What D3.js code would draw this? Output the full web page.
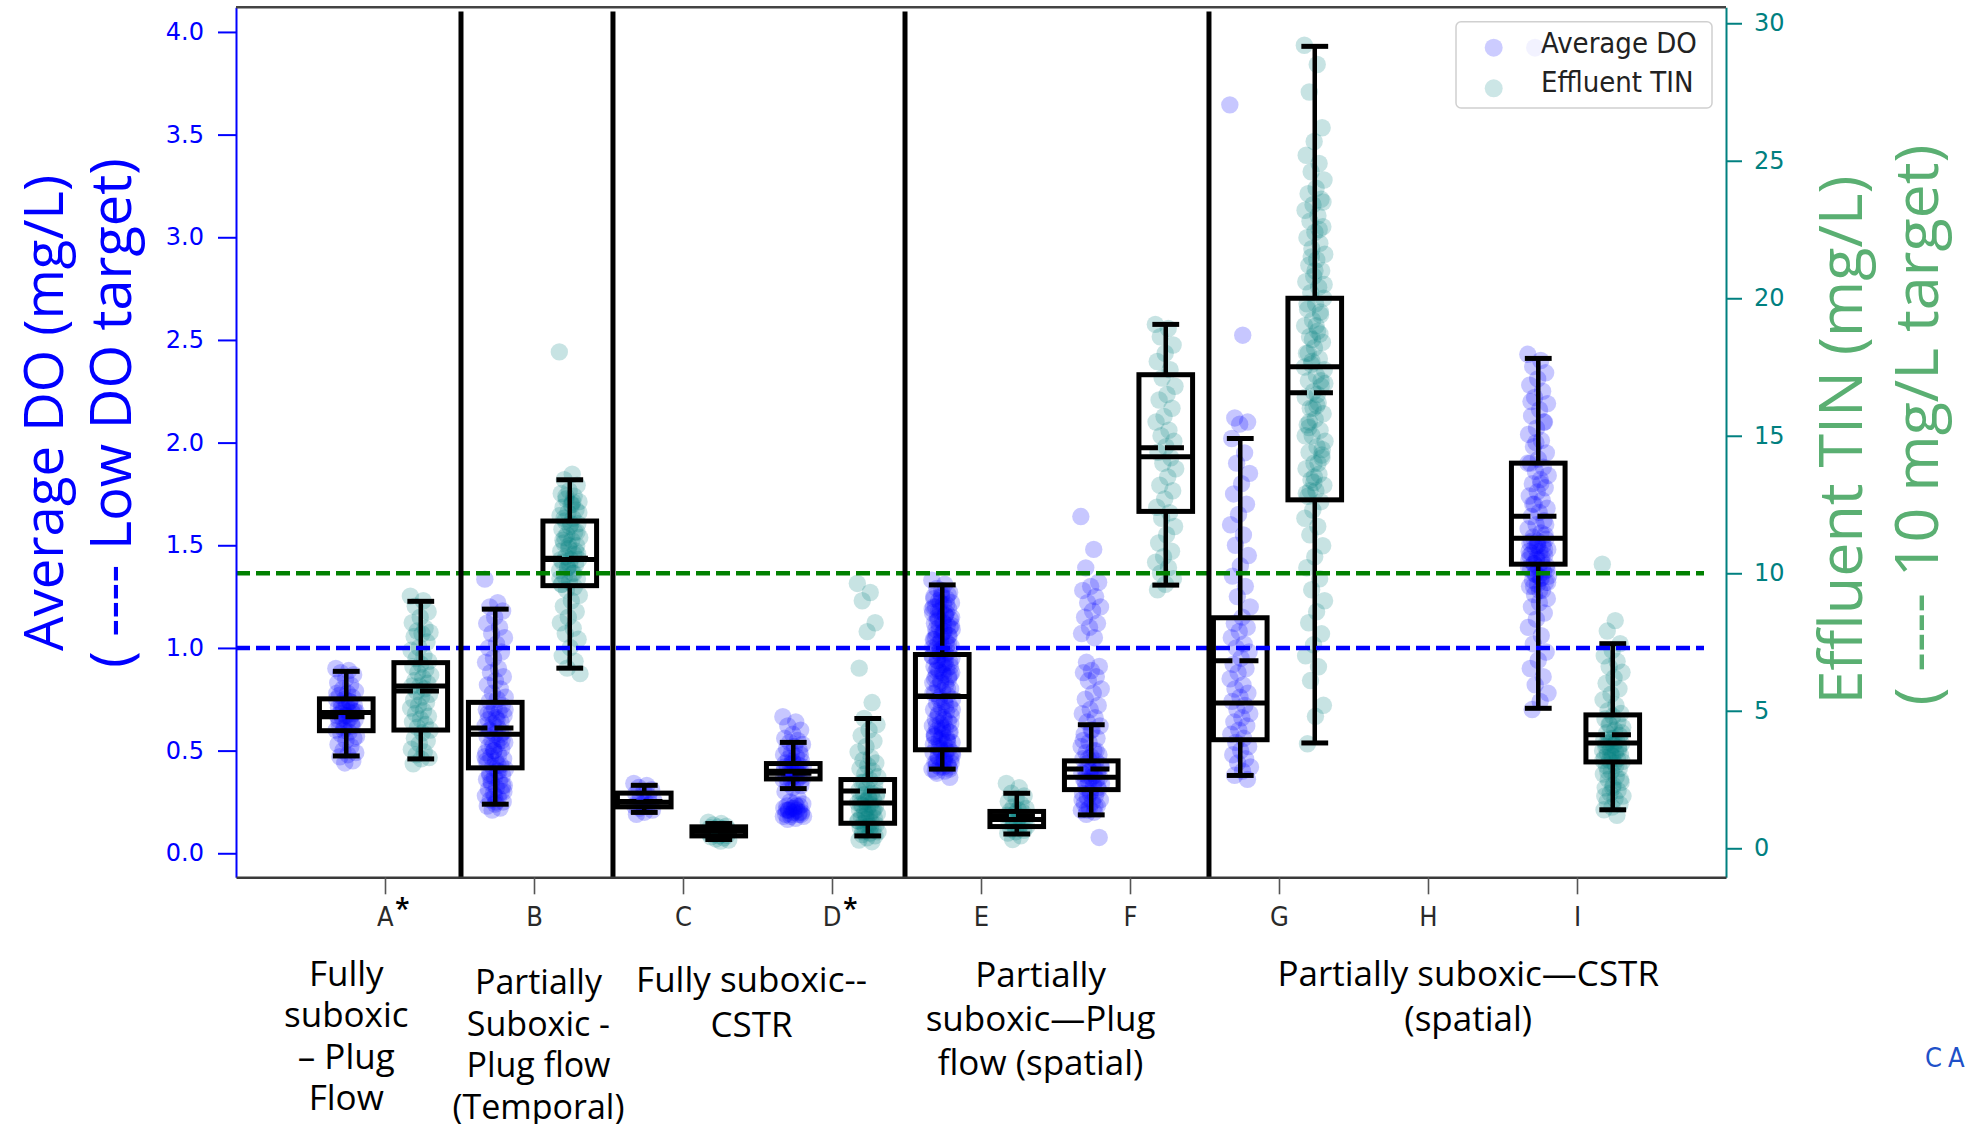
<!DOCTYPE html>
<html>
<head>
<meta charset="utf-8">
<script src="https://cdn.jsdelivr.net/npm/d3@7"></script>
<style>
  body { margin: 0; background: #fff; }
  svg { display: block; }
</style>
</head>
<body>
<div id="chart"></div>
<script>
/***********************************************************
 * DATA
 ************************************************************/
// x axis categories (H has no data), starred ones get an asterisk
var categories = ["A", "B", "C", "D", "E", "F", "G", "H", "I"];
var starred = ["A", "D"];

// categories that carry a DO box and a TIN box
var boxCats = ["A", "B", "C", "D", "E", "F", "G", "I"];

// Average DO box statistics (mg/L), one entry per boxCats item
var doWhiskerLow  = [0.474, 0.239, 0.199, 0.315, 0.410, 0.187, 0.379, 0.706];
var doQ1          = [0.597, 0.416, 0.226, 0.362, 0.504, 0.310, 0.553, 1.408];
var doMedian      = [0.685, 0.580, 0.248, 0.400, 0.764, 0.370, 0.732, 1.534];
var doMean        = [0.665, 0.610, 0.252, 0.390, 0.766, 0.410, 0.938, 1.641];
var doQ3          = [0.752, 0.735, 0.293, 0.437, 0.968, 0.450, 1.147, 1.900];
var doWhiskerHigh = [0.886, 1.189, 0.331, 0.540, 1.307, 0.626, 2.020, 2.410];

// Effluent TIN box statistics (mg/L)
var tinWhiskerLow  = [3.25, 6.55, 0.32, 0.45, 0.52, 9.57, 3.83, 1.40];
var tinQ1          = [4.30, 9.55, 0.45, 0.91, 0.79, 12.25, 12.67, 3.14];
var tinMedian      = [5.90, 10.50, 0.62, 1.65, 1.05, 14.24, 17.51, 3.83];
var tinMean        = [5.72, 10.55, 0.62, 2.08, 1.18, 14.56, 16.56, 4.13];
var tinQ3          = [6.75, 11.90, 0.78, 2.50, 1.34, 17.22, 20.00, 4.85];
var tinWhiskerHigh = [8.98, 13.40, 0.90, 4.72, 2.00, 19.05, 29.16, 7.44];

var doPoints = [
  // A
  [0.90,0.89,0.88,0.87,0.85,0.83,0.82,0.80,0.79,0.78,0.77,0.76,0.75,0.75,0.74,0.73,0.72,0.72,0.71,0.70,0.70,0.69,0.69,0.68,0.68,0.67,0.67,0.66,0.66,0.65,0.64,0.63,0.62,0.61,0.60,0.59,0.58,0.56,0.55,0.53,0.52,0.50,0.49,0.48,0.47,0.45,0.44,
   0.78,0.74,0.71,0.69,0.67,0.65,0.63,0.60,0.57],
  // B
  [1.335,1.22,1.20,1.18,1.15,1.12,1.10,1.07,1.05,1.02,1.00,0.98,0.95,0.93,0.90,0.88,0.86,0.84,0.82,0.80,0.78,0.76,0.75,0.74,0.72,0.71,0.70,0.69,0.68,0.67,0.66,0.65,0.64,0.63,0.62,0.61,0.60,0.59,0.58,0.57,0.56,0.55,0.54,0.53,0.52,0.51,0.50,0.49,0.48,0.47,0.46,0.45,0.44,0.43,0.42,0.41,0.40,0.39,0.38,0.37,0.36,0.35,0.34,0.33,0.32,0.31,0.30,0.29,0.28,0.27,0.26,0.25,0.24,0.23,0.22,0.21,
   0.70,0.65,0.60,0.55,0.50,0.45,0.40,0.35,0.30,0.25,0.68,0.58,0.52,0.47,0.43,0.38,0.33,0.28],
  // C
  [0.34,0.33,0.32,0.31,0.30,0.29,0.28,0.27,0.26,0.25,0.25,0.24,0.24,0.23,0.23,0.22,0.21,0.20,0.19],
  // D
  [0.665,0.64,0.62,0.60,0.58,0.56,0.55,0.54,0.53,0.52,0.51,0.50,0.49,0.48,0.47,0.46,0.45,0.44,0.44,0.43,0.43,0.42,0.42,0.41,0.41,0.40,0.40,0.39,0.39,0.38,0.38,0.37,0.37,0.36,0.36,0.35,0.34,0.33,0.32,0.30,0.27,0.25,0.24,0.24,0.23,0.23,0.22,0.22,0.21,0.21,0.20,0.20,0.19,0.19,0.18,0.18,0.17,0.165,
   0.48,0.45,0.42,0.40,0.38,0.36,0.22,0.21,0.20,0.19,0.18,0.23,0.21,0.19],
  // E
  [1.33,1.31,1.29,1.27,1.26,1.25,1.24,1.23,1.22,1.21,1.20,1.19,1.18,1.17,1.16,1.15,1.14,1.13,1.12,1.11,1.10,1.09,1.08,1.07,1.06,1.05,1.04,1.03,1.02,1.01,1.00,0.99,0.98,0.97,0.96,0.95,0.94,0.93,0.92,0.91,0.90,0.89,0.88,0.87,0.86,0.85,0.84,0.83,0.82,0.81,0.80,0.79,0.78,0.77,0.76,0.75,0.74,0.73,0.72,0.71,0.70,0.69,0.68,0.67,0.66,0.65,0.64,0.63,0.62,0.61,0.60,0.59,0.58,0.57,0.56,0.55,0.54,0.53,0.52,0.51,0.50,0.49,0.48,0.47,0.46,0.45,0.44,0.43,0.42,0.41,0.40,0.39,0.37,
   1.28,1.24,1.21,1.18,1.15,1.12,1.09,1.06,1.03,1.00,0.97,0.94,0.91,0.88,0.85,0.80,0.75,0.70,0.65,0.62,0.59,0.56,0.53,0.50,0.47,0.44,0.42,0.40,
   1.26,1.22,1.19,1.16,1.13,1.10,1.07,1.04,1.01,0.98,0.95,0.92,0.89,0.86,0.83,0.78,0.72,0.67,0.63,0.60,0.57,0.54,0.51,0.48,0.45,0.43,0.41,
   1.25,1.20,1.17,1.14,1.11,1.08,1.05,1.02,0.99,0.96,0.93,0.90,0.87,0.61,0.58,0.55,0.52,0.49,0.46,0.44,0.42],
  // F
  [1.64,1.48,1.39,1.32,1.30,1.28,1.25,1.22,1.20,1.18,1.15,1.12,1.10,1.07,1.05,0.93,0.91,0.89,0.88,0.86,0.84,0.80,0.78,0.75,0.72,0.70,0.68,0.66,0.64,0.62,0.60,0.58,0.56,0.54,0.52,0.50,0.49,0.48,0.47,0.46,0.45,0.44,0.43,0.42,0.41,0.40,0.40,0.39,0.38,0.38,0.37,0.37,0.36,0.36,0.35,0.34,0.33,0.32,0.31,0.30,0.29,0.28,0.27,0.26,0.25,0.24,0.23,0.22,0.21,0.20,0.19,0.077,
   0.60,0.55,0.50,0.46,0.42,0.39,0.35,0.32,0.29,0.26,0.23,0.21],
  // G
  [3.645,2.523,2.12,2.10,2.09,2.02,1.95,1.90,1.85,1.80,1.75,1.70,1.65,1.60,1.55,1.50,1.45,1.40,1.35,1.30,1.25,1.20,1.15,1.12,1.10,1.08,1.05,1.02,1.00,0.98,0.95,0.92,0.90,0.88,0.85,0.82,0.80,0.78,0.76,0.74,0.72,0.70,0.68,0.66,0.64,0.62,0.60,0.58,0.56,0.54,0.52,0.50,0.48,0.46,0.44,0.42,0.40,0.38,0.36],
  // I
  [2.43,2.40,2.37,2.34,2.31,2.28,2.25,2.22,2.19,2.16,2.13,2.10,2.07,2.04,2.01,1.98,1.95,1.92,1.90,1.88,1.86,1.84,1.82,1.80,1.78,1.76,1.74,1.72,1.70,1.68,1.66,1.64,1.62,1.60,1.58,1.56,1.54,1.53,1.52,1.51,1.50,1.49,1.48,1.47,1.46,1.45,1.44,1.43,1.42,1.41,1.40,1.39,1.38,1.37,1.36,1.35,1.34,1.33,1.32,1.31,1.30,1.28,1.26,1.24,1.22,1.20,1.17,1.14,1.10,1.06,1.02,0.98,0.94,0.90,0.86,0.82,0.78,0.74,0.70,
   1.55,1.50,1.47,1.44,1.41,1.38,1.35,
   2.2,2.1,2.0,1.9,1.8,1.7,1.6,1.5,1.45,1.4,1.36,1.32,1.28,
   1.52,1.48,1.43,1.39,1.34,1.30]
];

var tinPoints = [
  // A
  [9.17,9.0,8.8,8.6,8.4,8.2,8.0,7.9,7.85,7.8,7.7,7.5,7.3,7.2,7.0,6.9,6.8,6.7,6.6,6.5,6.4,6.3,6.2,6.1,6.0,5.9,5.9,5.8,5.7,5.6,5.5,5.4,5.3,5.2,5.1,5.0,4.9,4.8,4.7,4.6,4.5,4.4,4.3,4.2,4.0,3.9,3.8,3.6,3.5,3.4,3.3,3.25,3.07],
  // B
  [18.05,13.6,13.4,13.2,13.0,12.9,12.8,12.7,12.6,12.5,12.4,12.3,12.2,12.1,12.0,11.9,11.8,11.7,11.6,11.5,11.4,11.3,11.2,11.1,11.0,10.9,10.8,10.7,10.6,10.5,10.5,10.4,10.3,10.2,10.1,10.0,9.9,9.8,9.7,9.6,9.5,9.4,9.2,9.0,8.8,8.6,8.4,8.2,8.0,7.8,7.6,7.3,7.0,6.8,6.55,6.35,
   12.5,12.0,11.5,11.0,10.5,10.0,12.8,12.2,11.8,11.2,10.8,10.2,9.8,12.6,11.3,10.7,10.3,9.6],
  // C
  [0.95,0.9,0.85,0.8,0.78,0.75,0.72,0.7,0.68,0.65,0.62,0.6,0.58,0.55,0.52,0.5,0.47,0.45,0.42,0.38,0.34,0.3,0.26],
  // D
  [9.63,9.3,9.0,8.2,7.88,6.55,5.3,4.72,4.5,4.3,4.1,3.9,3.7,3.5,3.3,3.2,3.1,3.0,2.9,2.8,2.7,2.6,2.5,2.4,2.3,2.2,2.1,2.0,1.95,1.9,1.85,1.8,1.75,1.7,1.65,1.6,1.55,1.5,1.45,1.4,1.35,1.3,1.25,1.2,1.15,1.1,1.05,1.0,0.95,0.9,0.85,0.8,0.75,0.7,0.65,0.6,0.55,0.5,0.45,0.38,0.3,0.24,
   2.4,2.0,1.8,1.6,1.4,1.2,1.0,0.8,0.6],
  // E
  [2.36,2.2,2.0,1.9,1.8,1.7,1.6,1.5,1.45,1.4,1.35,1.3,1.25,1.2,1.15,1.1,1.05,1.0,0.95,0.9,0.85,0.8,0.75,0.7,0.65,0.6,0.55,0.45,0.32],
  // F
  [19.05,18.9,18.6,18.3,18.0,17.7,17.4,17.1,16.8,16.5,16.3,16.0,15.7,15.5,15.2,15.0,14.8,14.6,14.4,14.2,14.0,13.8,13.5,13.2,13.0,12.7,12.4,12.2,12.0,11.7,11.4,11.1,10.8,10.6,10.4,10.2,10.0,9.8,9.6,9.4],
  // G
  [29.2,28.5,27.5,26.2,25.7,25.2,24.9,24.6,24.3,24.0,23.8,23.6,23.4,23.2,23.0,22.8,22.6,22.4,22.2,22.0,21.8,21.6,21.4,21.2,21.0,20.8,20.6,20.4,20.2,20.0,19.8,19.6,19.4,19.2,19.0,18.8,18.6,18.4,18.2,18.0,17.8,17.6,17.4,17.2,17.0,16.8,16.6,16.4,16.2,16.0,15.8,15.6,15.4,15.2,15.0,14.8,14.6,14.4,14.2,14.0,13.8,13.6,13.4,13.2,13.0,12.8,12.6,12.3,12.0,11.7,11.4,11.0,10.6,10.2,9.8,9.4,9.0,8.6,8.2,7.8,7.4,7.0,6.6,6.1,5.2,4.8,3.8,
   19.5,18.5,17.5,16.5,15.5,14.5,13.5,12.9,22.5,21.5,20.5,19.0,18.0,17.0,16.0,15.0,14.0,13.0,
   23.5,21.0,19.8,18.7,17.7,16.9,16.1,15.3,14.3,13.3],
  // I
  [10.33,8.28,7.9,7.44,7.2,7.0,6.8,6.6,6.4,6.2,6.0,5.8,5.6,5.4,5.2,5.0,4.9,4.8,4.7,4.6,4.5,4.4,4.3,4.2,4.1,4.0,3.95,3.9,3.85,3.8,3.75,3.7,3.65,3.6,3.55,3.5,3.45,3.4,3.35,3.3,3.25,3.2,3.15,3.1,3.0,2.9,2.8,2.7,2.6,2.5,2.4,2.3,2.2,2.1,2.0,1.9,1.8,1.7,1.6,1.5,1.4,1.2,
   4.5,4.2,4.0,3.8,3.6,3.4,3.2,3.0,2.8,2.5,2.2,1.9]
];

// axis ticks
var doTicks = [0.0, 0.5, 1.0, 1.5, 2.0, 2.5, 3.0, 3.5, 4.0];
var tinTicks = [0, 5, 10, 15, 20, 25, 30];

// reference targets
var doTarget = 1.0;
var tinTarget = 10;

// vertical separators between reactor types (in category units)
var separators = [0.51, 1.53, 3.49, 5.53];

// reactor type captions under the axis
var groupLabels = [
  ["Fully", "suboxic", "\u2013 Plug", "Flow"],
  ["Partially", "Suboxic -", "Plug flow", "(Temporal)"],
  ["Fully suboxic--", "CSTR"],
  ["Partially", "suboxic\u2014Plug", "flow (spatial)"],
  ["Partially suboxic\u2014CSTR", "(spatial)"]
];
var groupLabelCenter = [-0.26, 1.03, 2.46, 4.40, 7.27];

var legendNames = ["Average DO", "Effluent TIN"];

/***********************************************************
 * LAYOUT
 ************************************************************/
var W = 1972, H = 1124;
var margin = {top: 7.3, right: 246, bottom: 246.7, left: 236};
var plotW = W - margin.left - margin.right,
    plotH = H - margin.top - margin.bottom;

var doColor = "#0000ff",
    tinColor = "#008080",
    rightLabelColor = "#5aaf72";

var groupFirstBaseline = [985.5, 994, 992, 986.7, 985.5];
var groupLineGap = [41.5, 41.5, 45, 44, 45];
var groupFontSize = [35, 34, 35, 35, 35];

var x = d3.scaleLinear().domain([-1, 9]).range([0, plotW]);
var yDO = d3.scaleLinear().domain([-0.117, 4.12]).range([plotH, 0]);
var yTIN = d3.scaleLinear().domain([-1.055, 30.58]).range([plotH, 0]);

var boxW = 0.36, doOffset = -0.26, tinOffset = 0.24, jitterW = 0.14;

var svg = d3.select("#chart").append("svg")
    .attr("width", W)
    .attr("height", H);

var g = svg.append("g")
    .attr("transform", "translate(" + margin.left + "," + margin.top + ")");

// golden-ratio spread so the strip points do not stack
function jitter(i) { return ((i * 0.6180339887) % 1) - 0.5; }

/***********************************************************
 * STRIP POINTS
 ************************************************************/
function drawPoints(pointSets, yScale, offset, color) {
  pointSets.forEach(function(vals, k) {
    var ci = categories.indexOf(boxCats[k]);
    g.append("g").selectAll("circle").data(vals).enter()
      .append("circle")
        .attr("cx", function(d, i) { return x(ci + offset + jitter(i) * jitterW); })
        .attr("cy", function(d) { return yScale(d); })
        .attr("r", 8.7)
        .attr("fill", color)
        .attr("fill-opacity", 0.22);
  });
}
drawPoints(doPoints, yDO, doOffset, doColor);
drawPoints(tinPoints, yTIN, tinOffset, tinColor);

/***********************************************************
 * BOXES
 ************************************************************/
function drawBoxes(yScale, offset, wl, q1, med, mean, q3, wh) {
  var half = (x(boxW) - x(0)) / 2;
  boxCats.forEach(function(c, k) {
    var cx = x(categories.indexOf(c) + offset);
    var bg = g.append("g")
        .attr("fill", "none")
        .attr("stroke", "#000")
        .attr("stroke-width", 5);
    // whiskers
    bg.append("line").attr("x1", cx).attr("x2", cx)
      .attr("y1", yScale(q3[k])).attr("y2", yScale(wh[k]))
      .attr("stroke-width", 4.5);
    bg.append("line").attr("x1", cx).attr("x2", cx)
      .attr("y1", yScale(q1[k])).attr("y2", yScale(wl[k]))
      .attr("stroke-width", 4.5);
    // caps
    [wl[k], wh[k]].forEach(function(v) {
      bg.append("line").attr("x1", cx - half / 2).attr("x2", cx + half / 2)
        .attr("y1", yScale(v)).attr("y2", yScale(v));
    });
    // box
    bg.append("rect")
      .attr("x", cx - half).attr("width", 2 * half)
      .attr("y", yScale(q3[k]))
      .attr("height", Math.max(yScale(q1[k]) - yScale(q3[k]), 0.5));
    // median (solid) and mean (dashed)
    bg.append("line").attr("x1", cx - half).attr("x2", cx + half)
      .attr("y1", yScale(med[k])).attr("y2", yScale(med[k]));
    bg.append("line").attr("x1", cx - half).attr("x2", cx + half)
      .attr("y1", yScale(mean[k])).attr("y2", yScale(mean[k]))
      .attr("stroke-dasharray", "19,7");
  });
}
drawBoxes(yDO, doOffset, doWhiskerLow, doQ1, doMedian, doMean, doQ3, doWhiskerHigh);
drawBoxes(yTIN, tinOffset, tinWhiskerLow, tinQ1, tinMedian, tinMean, tinQ3, tinWhiskerHigh);

/***********************************************************
 * TARGET LINES AND SEPARATORS
 ************************************************************/
g.append("line")
  .attr("x1", 0).attr("x2", plotW - 22)
  .attr("y1", yDO(doTarget)).attr("y2", yDO(doTarget))
  .attr("stroke", "#0000ff").attr("stroke-width", 4.5)
  .attr("stroke-dasharray", "14,6");
g.append("line")
  .attr("x1", 0).attr("x2", plotW - 22)
  .attr("y1", yTIN(tinTarget)).attr("y2", yTIN(tinTarget))
  .attr("stroke", "#008000").attr("stroke-width", 4.5)
  .attr("stroke-dasharray", "14,6");

g.selectAll(".sep").data(separators).enter()
  .append("line")
    .attr("class", "sep")
    .attr("x1", function(d) { return x(d); })
    .attr("x2", function(d) { return x(d); })
    .attr("y1", yDO(4.1))
    .attr("y2", plotH)
    .attr("stroke", "#000")
    .attr("stroke-width", 5);

/***********************************************************
 * AXES
 ************************************************************/
var leftAxis = g.append("g")
  .call(d3.axisLeft(yDO).tickValues(doTicks).tickFormat(d3.format(".1f"))
    .tickSize(18).tickSizeOuter(0).tickPadding(14));
leftAxis.select(".domain").attr("stroke", doColor).attr("stroke-width", 2);
leftAxis.selectAll(".tick line").attr("stroke", doColor).attr("stroke-width", 2);
leftAxis.selectAll(".tick text")
  .attr("fill", doColor)
  .style("font-family", "'DejaVu Sans', sans-serif")
  .style("font-size", "24px");

var rightAxis = g.append("g")
  .attr("transform", "translate(" + plotW + ",0)")
  .call(d3.axisRight(yTIN).tickValues(tinTicks)
    .tickSize(16).tickSizeOuter(0).tickPadding(12));
rightAxis.select(".domain").attr("stroke", tinColor).attr("stroke-width", 2);
rightAxis.selectAll(".tick line").attr("stroke", tinColor).attr("stroke-width", 2);
rightAxis.selectAll(".tick text")
  .attr("fill", tinColor)
  .style("font-family", "'DejaVu Sans', sans-serif")
  .style("font-size", "24px");

var bottomAxis = g.append("g")
  .attr("transform", "translate(0," + plotH + ")")
  .call(d3.axisBottom(x).tickValues(categories.map(function(c, i) { return i; }))
    .tickFormat(function(i) { return categories[i]; })
    .tickSize(17).tickSizeOuter(0).tickPadding(13));
bottomAxis.select(".domain").attr("stroke", "#3a3a3a").attr("stroke-width", 2.6);
bottomAxis.selectAll(".tick line").attr("stroke", "#555").attr("stroke-width", 1.6);
bottomAxis.selectAll(".tick text")
  .attr("fill", "#2a2a2a")
  .style("font-family", "'DejaVu Sans Condensed', 'DejaVu Sans', sans-serif")
  .style("font-stretch", "condensed")
  .style("font-size", "27px");

// asterisks next to A and D, kept in the same text as the letter
bottomAxis.selectAll(".tick text")
  .filter(function(i) { return starred.indexOf(categories[i]) >= 0; })
  .attr("dx", 8)
  .append("tspan")
    .attr("dx", 1)
    .attr("dy", 2)
    .attr("fill", "#000")
    .style("font-family", "'Open Sans', sans-serif")
    .style("font-size", "40px")
    .text("*");

// top spine
g.append("line")
  .attr("x1", 0).attr("x2", plotW)
  .attr("y1", 0).attr("y2", 0)
  .attr("stroke", "#444").attr("stroke-width", 2.5);

/***********************************************************
 * AXIS TITLES
 ************************************************************/
function vText(tx, ty, size, color, str) {
  svg.append("text")
    .attr("transform", "translate(" + tx + "," + ty + ") rotate(-90)")
    .attr("text-anchor", "middle")
    .attr("fill", color)
    .style("font-family", "'Open Sans', sans-serif")
    .style("font-size", size + "px")
    .text(str);
}
vText(63, 413, 54.5, doColor, "Average DO (mg/L)");
vText(130.5, 413, 56, doColor, "( ---- Low DO target)");
vText(1862, 440, 61, rightLabelColor, "Effluent TIN (mg/L)");
vText(1938, 425, 61, rightLabelColor, "( ---- 10 mg/L target)");

/***********************************************************
 * GROUP CAPTIONS
 ************************************************************/
groupLabels.forEach(function(lines, k) {
  var t = svg.append("text")
    .attr("text-anchor", "middle")
    .attr("fill", "#000")
    .style("font-family", "'Open Sans', sans-serif")
    .style("font-size", groupFontSize[k] + "px");
  lines.forEach(function(line, j) {
    t.append("tspan")
      .attr("x", margin.left + x(groupLabelCenter[k]))
      .attr("y", groupFirstBaseline[k] + j * groupLineGap[k])
      .text(line);
  });
});

// clipped footer text at the right edge
svg.append("text")
  .attr("x", 1925).attr("y", 1067)
  .attr("fill", "#2050c8")
  .style("font-family", "'DejaVu Sans Condensed', 'DejaVu Sans', sans-serif")
  .style("font-stretch", "condensed")
  .style("font-size", "27px")
  .style("letter-spacing", "6px")
  .text("CAP");

/***********************************************************
 * LEGEND
 ************************************************************/
var legend = g.append("g")
  .attr("transform", "translate(" + (1456 - margin.left) + "," + (21.7 - margin.top) + ")");
legend.append("rect")
  .attr("width", 256).attr("height", 86.3)
  .attr("rx", 5)
  .attr("fill", "#fff").attr("fill-opacity", 0.85)
  .attr("stroke", "#d0d0d0").attr("stroke-width", 1.5);
var legendColors = [doColor, tinColor];
legendNames.forEach(function(name, i) {
  legend.append("circle")
    .attr("cx", 37.7).attr("cy", 26 + i * 40.6)
    .attr("r", 9)
    .attr("fill", legendColors[i]).attr("fill-opacity", 0.2);
  legend.append("text")
    .attr("x", 85).attr("y", 31.5 + i * 39)
    .attr("fill", "#222")
    .style("font-family", "'DejaVu Sans Condensed', 'DejaVu Sans', sans-serif")
    .style("font-stretch", "condensed")
    .style("font-size", "29px")
    .text(name);
});
// faint second scatter marker of the first legend entry
legend.append("circle")
  .attr("cx", 79).attr("cy", 26).attr("r", 9)
  .attr("fill", doColor).attr("fill-opacity", 0.05);
</script>
</body>
</html>
